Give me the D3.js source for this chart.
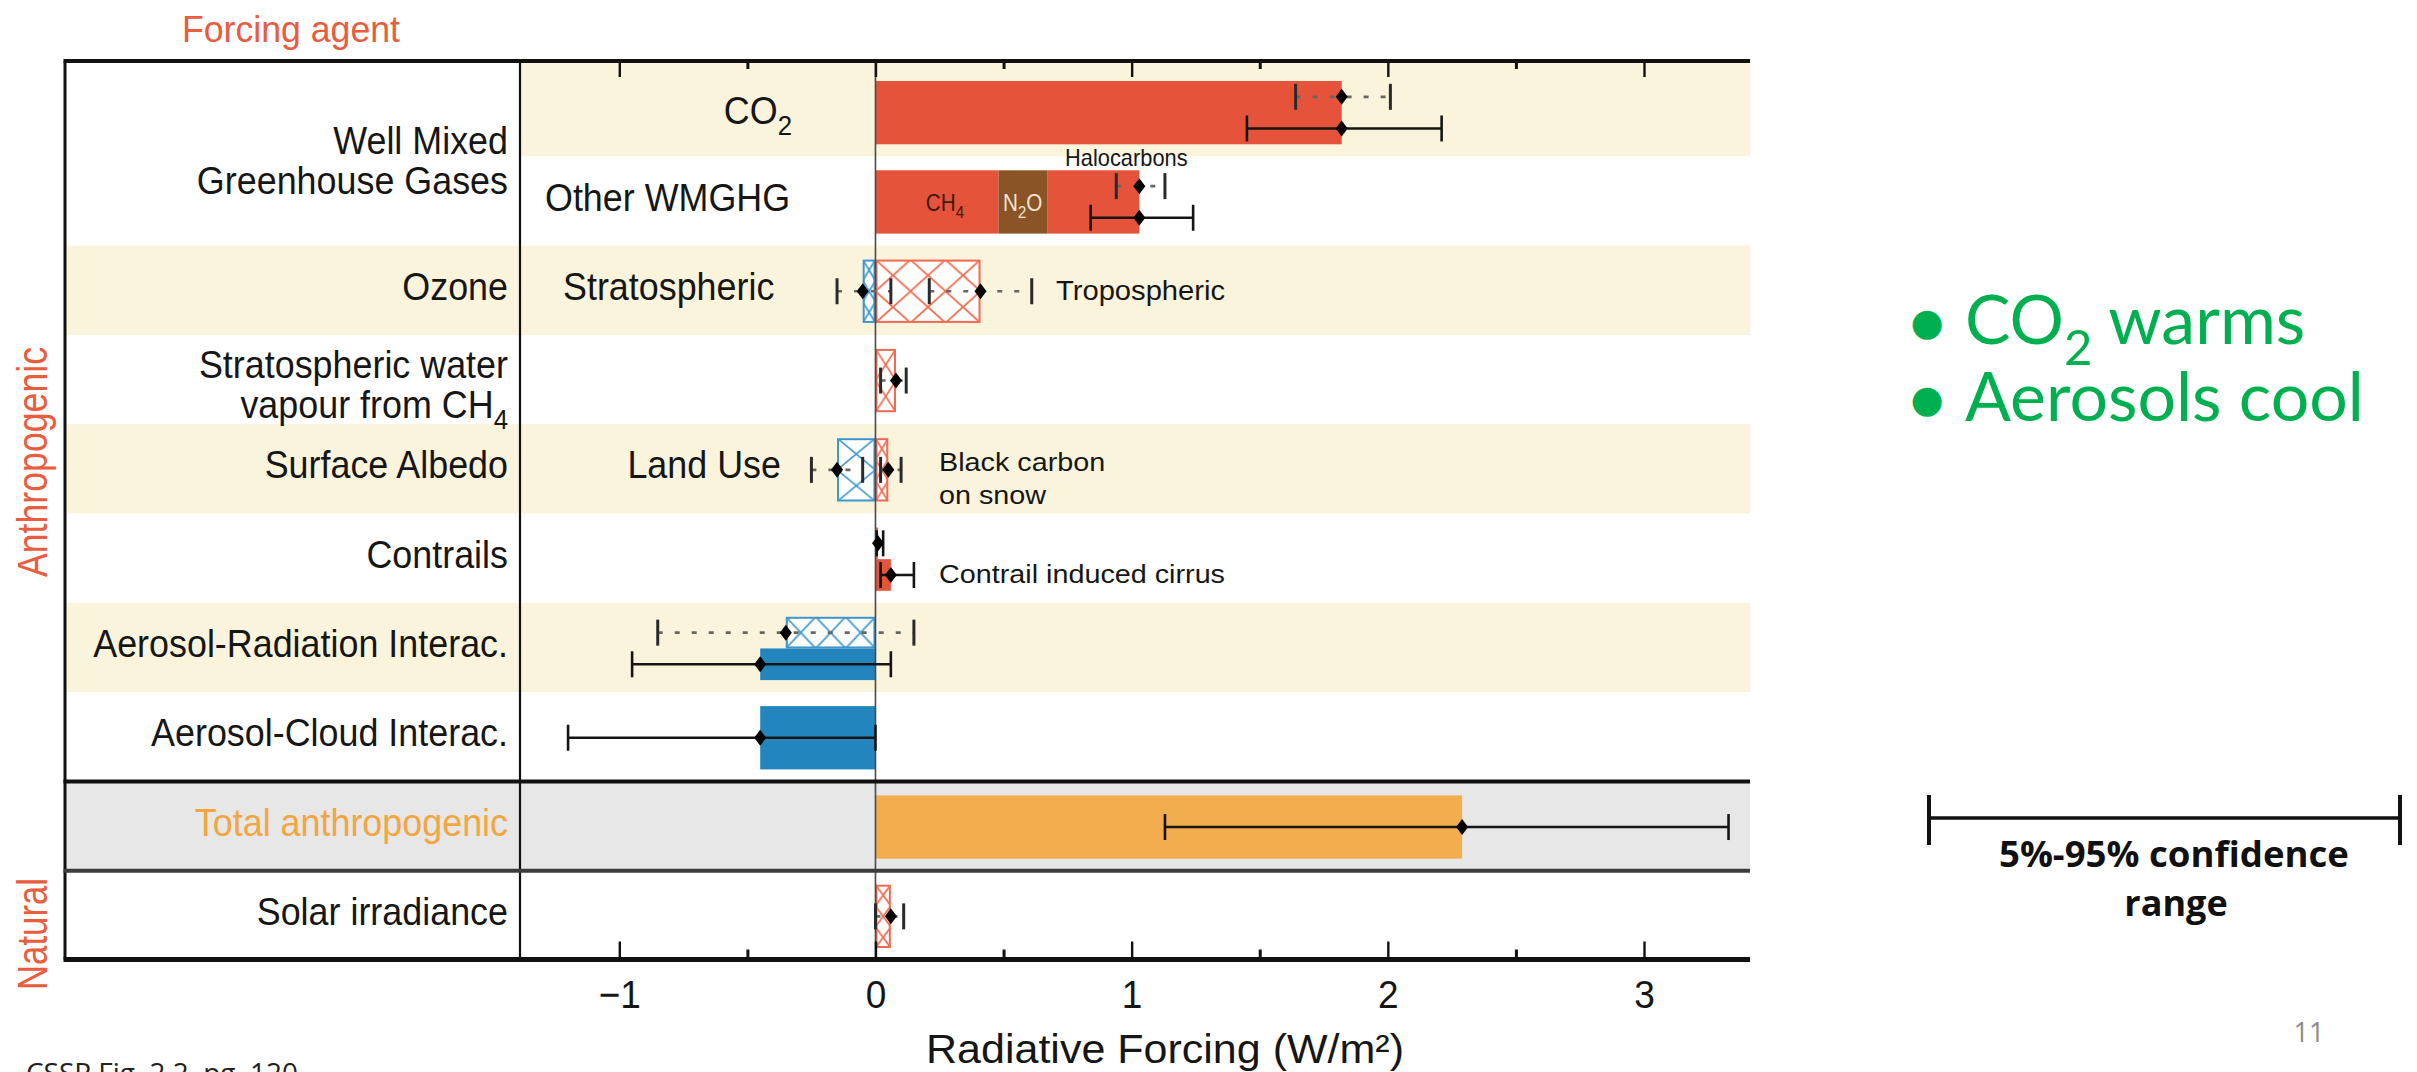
<!DOCTYPE html>
<html>
<head>
<meta charset="utf-8">
<script src="https://cdn.jsdelivr.net/npm/d3@7"></script>
<style>
  html, body { margin: 0; padding: 0; background: #fff; }
  svg { display: block; }
</style>
</head>
<body>
<svg id="fig" width="2417" height="1072"></svg>
<script>
// ---------------- data ----------------
const rowKeys = ["co2", "otherGhg", "ozone", "stratH2O", "albedo", "contrails", "ari", "aci", "total", "solar"];
const shadedRows = ["co2", "ozone", "albedo", "ari"];

// forcing agents (first column); "_4" marks a subscript
const agentLabels = [
  { rows: ["co2", "otherGhg"], lines: ["Well Mixed", "Greenhouse Gases"] },
  { rows: ["ozone"], lines: ["Ozone"] },
  { rows: ["stratH2O"], lines: ["Stratospheric water", "vapour from CH_4"] },
  { rows: ["albedo"], lines: ["Surface Albedo"] },
  { rows: ["contrails"], lines: ["Contrails"] },
  { rows: ["ari"], lines: ["Aerosol-Radiation Interac."] },
  { rows: ["aci"], lines: ["Aerosol-Cloud Interac."] },
  { rows: ["total"], lines: ["Total anthropogenic"] },
  { rows: ["solar"], lines: ["Solar irradiance"] }
];
const groupLabels = ["Anthropogenic", "Natural"];
const componentLabels = [
  { row: "co2", text: "CO_2" },
  { row: "otherGhg", text: "Other WMGHG" },
  { row: "ozone", text: "Stratospheric" },
  { row: "albedo", text: "Land Use" }
];
const barNotes = [
  { row: "otherGhg", lines: ["Halocarbons"] },
  { row: "ozone", lines: ["Tropospheric"] },
  { row: "albedo", lines: ["Black carbon", "on snow"] },
  { row: "contrails", lines: ["Contrail induced cirrus"] }
];

// stacked segments of the other well mixed greenhouse gases (W/m2)
const ghgNames = ["CH_4", "N_2O", "Halocarbons"];
const ghgValues = [0.48, 0.19, 0.36];

// radiative forcing (hatched) and effective radiative forcing (solid) bars
const hatchedBars = [
  { row: "ozone", part: "full", value: -0.05, tone: "cool" },
  { row: "ozone", part: "full", value: 0.41, tone: "warm" },
  { row: "stratH2O", part: "full", value: 0.08, tone: "warm" },
  { row: "albedo", part: "full", value: -0.15, tone: "cool" },
  { row: "albedo", part: "full", value: 0.05, tone: "warm" },
  { row: "contrails", part: "top", value: 0.01, tone: "warm" },
  { row: "ari", part: "top", value: -0.35, tone: "cool" },
  { row: "solar", part: "full", value: 0.06, tone: "warm" }
];
const solidBars = [
  { row: "co2", part: "full", value: 1.82, tone: "warm" },
  { row: "contrails", part: "bottom", value: 0.06, tone: "warm" },
  { row: "ari", part: "bottom", value: -0.45, tone: "cool" },
  { row: "aci", part: "full", value: -0.45, tone: "cool" },
  { row: "total", part: "full", value: 2.29, tone: "total" }
];

// 5%-95% ranges: "rf" drawn dotted, "erf" drawn solid
const ranges = [
  { row: "co2", part: "top", lo: 1.64, mid: 1.82, hi: 2.01, kind: "rf" },
  { row: "co2", part: "bottom", lo: 1.45, mid: 1.82, hi: 2.21, kind: "erf" },
  { row: "otherGhg", part: "top", lo: 0.94, mid: 1.03, hi: 1.13, kind: "rf" },
  { row: "otherGhg", part: "bottom", lo: 0.84, mid: 1.03, hi: 1.24, kind: "erf" },
  { row: "ozone", part: "full", lo: -0.15, mid: -0.05, hi: 0.06, kind: "rf" },
  { row: "ozone", part: "full", lo: 0.21, mid: 0.41, hi: 0.61, kind: "rf" },
  { row: "stratH2O", part: "full", lo: 0.02, mid: 0.08, hi: 0.12, kind: "rf" },
  { row: "albedo", part: "full", lo: -0.25, mid: -0.15, hi: -0.05, kind: "rf" },
  { row: "albedo", part: "full", lo: 0.02, mid: 0.05, hi: 0.10, kind: "rf" },
  { row: "contrails", part: "top", lo: 0.005, mid: 0.01, hi: 0.03, kind: "erf" },
  { row: "contrails", part: "bottom", lo: 0.02, mid: 0.06, hi: 0.15, kind: "erf" },
  { row: "ari", part: "top", lo: -0.85, mid: -0.35, hi: 0.15, kind: "rf" },
  { row: "ari", part: "bottom", lo: -0.95, mid: -0.45, hi: 0.06, kind: "erf" },
  { row: "aci", part: "full", lo: -1.2, mid: -0.45, hi: 0.0, kind: "erf" },
  { row: "total", part: "full", lo: 1.13, mid: 2.29, hi: 3.33, kind: "erf" },
  { row: "solar", part: "full", lo: 0.0, mid: 0.06, hi: 0.11, kind: "rf" }
];

const majorTicks = [-1, 0, 1, 2, 3];
const minorTicks = [-0.5, 0.5, 1.5, 2.5];
const axisTitle = "Radiative Forcing (W/m²)";
const headerTitle = "Forcing agent";
const bulletNotes = ["CO_2 warms", "Aerosols cool"];
const legendLines = ["5%-95% confidence", "range"];
const sourceNote = "CSSP Fig. 2.2, pg. 120";
const pageNumber = "11";

// ---------------- layout & styles ----------------
const FIG_FONT = "'Liberation Sans', Arial, Helvetica, sans-serif";
const SLIDE_FONT = "'Open Sans', 'Noto Sans', sans-serif";
const BULLET_FONT = "Lato, 'Open Sans', sans-serif";
const colors = {
  warm: "#e5533b", cool: "#2385bd", total: "#f2ad4f", n2o: "#8b5426",
  warmHatch: "#ef6a4f", coolHatch: "#3c95cd",
  beige: "#faf4dc", grey: "#e7e7e8",
  accent: "#e95c3d", totalText: "#f3a540", green: "#00b050"
};

const svg = d3.select("#fig");
const frameL = 65, frameT = 61, frameB = 959.5, colDiv = 520, plotR = 1750;

const x = d3.scaleLinear().domain([-1, 3]).range([619.3, 1644]);
const y = d3.scaleBand().domain(rowKeys).range([67, 960]);
const bw = y.bandwidth();

function span(row, part) {
  const t = y(row) + 14, b = y(row) + bw - 12, m = (t + b) / 2;
  return part === "top" ? [t, m] : part === "bottom" ? [m, b] : [t, b];
}
function midOf(row, part) { const s = span(row, part); return (s[0] + s[1]) / 2; }
function rowCenter(row) { return y(row) + bw / 2; }

// writes a string into a text node, turning "_n" into a lowered subscript
function richText(t, str) {
  const parts = str.split(/_(\d)/);
  let lowered = false;
  parts.forEach((p, i) => {
    if (!p) return;
    const ts = t.append("tspan").text(p);
    if (i % 2 === 1) { ts.attr("font-size", "0.72em").attr("dy", "0.42em"); lowered = true; }
    else if (lowered) { ts.attr("dy", "-0.3em"); lowered = false; }
  });
  return t;
}

function figText(parent, str, px, py, opts = {}) {
  const sx = opts.sx ?? 0.92;
  const t = parent.append("text")
    .attr("transform", `translate(${px},${py}) scale(${sx},1)`)
    .attr("dy", opts.dy ?? "0.36em")
    .attr("text-anchor", opts.anchor ?? "start")
    .attr("font-family", opts.family ?? FIG_FONT)
    .attr("font-size", opts.size ?? 39)
    .attr("fill", opts.fill ?? "#161616");
  richText(t, str);
  return t;
}

// ---------------- background bands ----------------
const bands = svg.append("g");
shadedRows.forEach(r => {
  const top = r === "co2" ? frameT : y(r);
  const left = r === "co2" ? colDiv : frameL;
  bands.append("rect").attr("x", left).attr("y", top)
    .attr("width", plotR - left).attr("height", y(r) + bw - top).attr("fill", colors.beige);
});
bands.append("rect").attr("x", frameL).attr("y", y("total"))
  .attr("width", plotR - frameL).attr("height", bw).attr("fill", colors.grey);

// ---------------- bars ----------------
const defs = svg.append("defs");
const barsG = svg.append("g");

solidBars.forEach(d => {
  const [t, b] = span(d.row, d.part);
  barsG.append("rect")
    .attr("x", x(Math.min(0, d.value))).attr("y", t)
    .attr("width", Math.abs(x(d.value) - x(0))).attr("height", b - t)
    .attr("fill", colors[d.tone]);
});

// stacked well mixed greenhouse gases
{
  const [t, b] = span("otherGhg", "full");
  let acc = 0;
  ghgValues.forEach((v, i) => {
    barsG.append("rect").attr("x", x(acc)).attr("y", t)
      .attr("width", x(acc + v) - x(acc)).attr("height", b - t)
      .attr("fill", i === 1 ? colors.n2o : colors.warm);
    acc += v;
  });
  // in-bar segment names for the first two gases
  let start = 0;
  ghgValues.slice(0, 2).forEach((v, i) => {
    figText(barsG, ghgNames[i], (x(start) + x(start + v)) / 2 + (i === 0 ? 8 : 0), midOf("otherGhg", "full") + 1,
      { anchor: "middle", size: 23, sx: 0.9, fill: i === 0 ? "#3a1a12" : "#f3e3d3" });
    start += v;
  });
}

hatchedBars.forEach((d, i) => {
  const [t, b] = span(d.row, d.part);
  const xa = x(Math.min(0, d.value)), xb = x(Math.max(0, d.value));
  const w = Math.max(1, xb - xa), h = b - t;
  const tw = w < 30 ? w : w / Math.max(1, Math.round(w / 34));
  const th = h / Math.max(1, Math.round(h / (w < 30 ? 1.5 * w : 32)));
  const stroke = d.tone === "cool" ? colors.coolHatch : colors.warmHatch;
  const pat = defs.append("pattern").attr("id", "hatch" + i)
    .attr("patternUnits", "userSpaceOnUse")
    .attr("x", xa).attr("y", t).attr("width", tw).attr("height", th);
  pat.append("rect").attr("width", tw).attr("height", th).attr("fill", "#fff");
  pat.append("path").attr("d", `M0,0L${tw},${th}M${tw},0L0,${th}`)
    .attr("stroke", stroke).attr("stroke-width", 1.7).attr("fill", "none");
  barsG.append("rect").attr("x", xa + 1).attr("y", t + 1)
    .attr("width", Math.max(0.5, w - 2)).attr("height", h - 2)
    .attr("fill", `url(#hatch${i})`).attr("stroke", stroke).attr("stroke-width", 2);
});

// ---------------- frame & grid lines ----------------
const lines = svg.append("g").attr("fill", "none");
lines.append("line").attr("x1", colDiv).attr("x2", colDiv).attr("y1", frameT).attr("y2", frameB)
  .attr("stroke", "#111").attr("stroke-width", 2.2);
lines.append("line").attr("x1", x(0)).attr("x2", x(0)).attr("y1", frameT).attr("y2", frameB)
  .attr("stroke", "#4a4a4a").attr("stroke-width", 1.6);
lines.append("line").attr("x1", frameL).attr("x2", frameL).attr("y1", frameT).attr("y2", frameB)
  .attr("stroke", "#111").attr("stroke-width", 3);
lines.append("line").attr("x1", frameL - 1.5).attr("x2", plotR).attr("y1", frameT).attr("y2", frameT)
  .attr("stroke", "#111").attr("stroke-width", 4);
lines.append("line").attr("x1", frameL - 1.5).attr("x2", plotR).attr("y1", y("total")).attr("y2", y("total"))
  .attr("stroke", "#111").attr("stroke-width", 4);
lines.append("line").attr("x1", frameL - 1.5).attr("x2", plotR).attr("y1", y("solar")).attr("y2", y("solar"))
  .attr("stroke", "#3c3c3c").attr("stroke-width", 4);
lines.append("line").attr("x1", frameL - 1.5).attr("x2", plotR).attr("y1", frameB).attr("y2", frameB)
  .attr("stroke", "#111").attr("stroke-width", 5);

// ---------------- uncertainty ranges ----------------
const diamond = "M0,-8L6,0L0,8L-6,0Z";
const rangeG = svg.append("g");
ranges.forEach(d => {
  const yy = midOf(d.row, d.part);
  const rf = d.kind === "rf";
  rangeG.append("line").attr("x1", x(d.lo)).attr("x2", x(d.hi)).attr("y1", yy).attr("y2", yy)
    .attr("stroke", rf ? "#666" : "#151515").attr("stroke-width", 2.6)
    .attr("stroke-dasharray", rf ? "5,12" : null);
  [d.lo, d.hi].forEach(v => {
    rangeG.append("line").attr("x1", x(v)).attr("x2", x(v)).attr("y1", yy - 13).attr("y2", yy + 13)
      .attr("stroke", rf ? "#2a2a2a" : "#151515").attr("stroke-width", rf ? 3 : 2.6);
  });
  rangeG.append("path").attr("d", diamond).attr("transform", `translate(${x(d.mid)},${yy})`).attr("fill", "#000");
});

// ---------------- axes ----------------
function styleTicks(g, width) {
  g.select(".domain").remove();
  g.selectAll(".tick line").attr("stroke", "#111").attr("stroke-width", width);
}
svg.append("g").attr("transform", `translate(0,${frameT})`)
  .call(d3.axisBottom(x).tickValues(majorTicks).tickSize(16).tickFormat(""))
  .call(g => styleTicks(g, 2.4));
svg.append("g").attr("transform", `translate(0,${frameT})`)
  .call(d3.axisBottom(x).tickValues(minorTicks).tickSize(8).tickFormat(""))
  .call(g => styleTicks(g, 3));
svg.append("g").attr("transform", `translate(0,${frameB})`)
  .call(d3.axisTop(x).tickValues(majorTicks).tickSize(18).tickFormat(""))
  .call(g => styleTicks(g, 2.4));
svg.append("g").attr("transform", `translate(0,${frameB})`)
  .call(d3.axisTop(x).tickValues(minorTicks).tickSize(10).tickFormat(""))
  .call(g => styleTicks(g, 3));
svg.append("g").attr("transform", `translate(0,${frameB})`)
  .call(d3.axisBottom(x).tickValues(majorTicks).tickSize(0).tickPadding(21).tickFormat(d3.format("d")))
  .call(g => {
    g.select(".domain").remove();
    g.selectAll(".tick text").attr("font-family", FIG_FONT).attr("font-size", 39)
      .attr("fill", "#161616").attr("transform", "scale(0.95,1)");
  });

svg.append("text").attr("x", 1165).attr("y", 1063).attr("text-anchor", "middle")
  .attr("font-family", FIG_FONT).attr("font-size", 40).attr("fill", "#161616")
  .attr("textLength", 478).attr("lengthAdjust", "spacingAndGlyphs").text(axisTitle);

// ---------------- labels ----------------
const labelG = svg.append("g");
agentLabels.forEach(d => {
  const c = d3.mean(d.rows, rowCenter);
  const n = d.lines.length;
  d.lines.forEach((ln, i) => {
    const yy = n === 1 ? c - 4.5 : c + 4 + (i - (n - 1) / 2) * 40;
    figText(labelG, ln, 508, yy, { anchor: "end", fill: d.rows[0] === "total" ? colors.totalText : "#161616" });
  });
});

const componentPlacement = {
  co2: { x: 792, anchor: "end", dy: -2 },
  otherGhg: { x: 545, anchor: "start", dy: -4 },
  ozone: { x: 563, anchor: "start", dy: -4 },
  albedo: { x: 781, anchor: "end", dy: -5 }
};
componentLabels.forEach(d => {
  const p = componentPlacement[d.row];
  figText(labelG, d.text, p.x, rowCenter(d.row) + p.dy, { anchor: p.anchor });
});

const notePlacement = {
  otherGhg: { x: 1065, y: 158, size: 23, sx: 0.95, gap: 0 },
  ozone: { x: 1056, y: 290, size: 27, sx: 1.08, gap: 0 },
  albedo: { x: 939, y: 462, size: 25, sx: 1.15, gap: 33 },
  contrails: { x: 939, y: 574, size: 25, sx: 1.15, gap: 0 }
};
barNotes.forEach(d => {
  const p = notePlacement[d.row];
  d.lines.forEach((ln, i) => figText(labelG, ln, p.x, p.y + i * p.gap, { size: p.size, sx: p.sx }));
});

// header and rotated group labels
svg.append("text").attr("x", 182).attr("y", 42).attr("font-family", FIG_FONT).attr("font-size", 37)
  .attr("fill", colors.accent).attr("textLength", 218).attr("lengthAdjust", "spacingAndGlyphs").text(headerTitle);

const groupPlacement = [{ cy: 462, len: 230 }, { cy: 934, len: 112 }];
groupLabels.forEach((g, i) => {
  svg.append("text").attr("transform", `translate(32,${groupPlacement[i].cy}) rotate(-90)`)
    .attr("text-anchor", "middle").attr("dy", "0.36em")
    .attr("font-family", FIG_FONT).attr("font-size", 42).attr("fill", colors.accent)
    .attr("textLength", groupPlacement[i].len).attr("lengthAdjust", "spacingAndGlyphs").text(g);
});

// ---------------- slide annotations ----------------
const slide = svg.append("g");
const bulletBase = [344, 421];
bulletNotes.forEach((s, i) => {
  slide.append("text").attr("x", 1927).attr("y", bulletBase[i] - 22)
    .attr("text-anchor", "middle").attr("dominant-baseline", "central")
    .attr("font-family", "'DejaVu Sans', sans-serif").attr("font-size", 38)
    .attr("fill", colors.green).text("●");
  const line = slide.append("text").attr("x", 1965).attr("y", bulletBase[i])
    .attr("font-family", BULLET_FONT).attr("font-size", 68).attr("fill", colors.green);
  richText(line, s);
});

// confidence range key
slide.append("line").attr("x1", 1929).attr("x2", 2400).attr("y1", 818).attr("y2", 818)
  .attr("stroke", "#111").attr("stroke-width", 3.5);
[1929, 2400].forEach(px => slide.append("line").attr("x1", px).attr("x2", px).attr("y1", 795).attr("y2", 845)
  .attr("stroke", "#111").attr("stroke-width", 4));
slide.append("text").attr("x", 2174).attr("y", 867).attr("text-anchor", "middle")
  .attr("font-family", SLIDE_FONT).attr("font-weight", 700).attr("font-size", 36).attr("fill", "#111")
  .attr("textLength", 350).attr("lengthAdjust", "spacingAndGlyphs").text(legendLines[0]);
slide.append("text").attr("x", 2176).attr("y", 916).attr("text-anchor", "middle")
  .attr("font-family", SLIDE_FONT).attr("font-weight", 700).attr("font-size", 36).attr("fill", "#111")
  .text(legendLines[1]);

slide.append("text").attr("x", 26).attr("y", 1083).attr("font-family", SLIDE_FONT).attr("font-size", 28)
  .attr("fill", "#222").attr("textLength", 272).attr("lengthAdjust", "spacingAndGlyphs").text(sourceNote);
slide.append("text").attr("x", 2309).attr("y", 1042).attr("text-anchor", "middle")
  .attr("font-family", SLIDE_FONT).attr("font-size", 27).attr("fill", "#8c8c8c").text(pageNumber);
</script>
</body>
</html>
